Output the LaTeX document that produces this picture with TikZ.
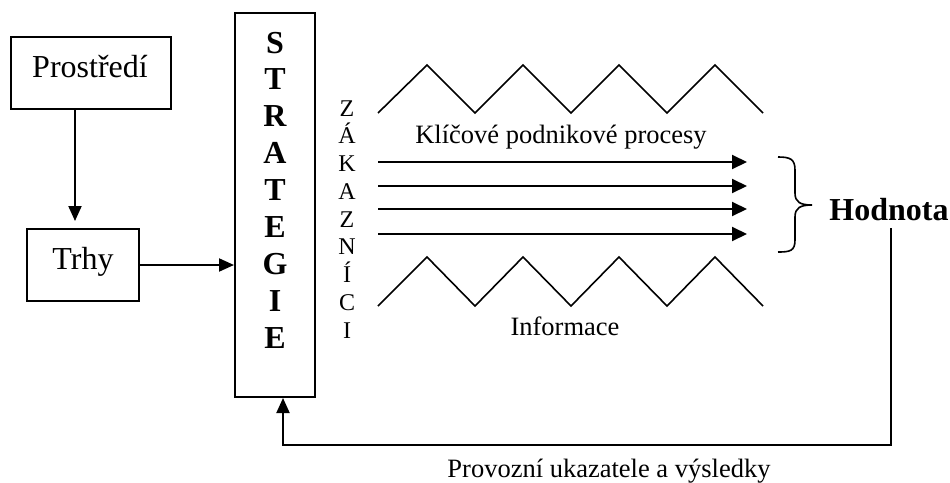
\documentclass[tikz,border=0pt]{standalone}
\usepackage{fontspec}
\setmainfont{Liberation Serif}
\usetikzlibrary{arrows.meta}
\begin{document}
\begin{tikzpicture}[x=1pt,y=-1pt,
  box/.style={draw, line width=2pt, inner sep=0pt},
  conn/.style={line width=2pt, -{Triangle[length=15pt,width=13pt]}},
  flow/.style={line width=2pt, -{Triangle[length=15pt,width=14pt]}},
  wave/.style={line width=1.6pt, line join=miter},
  boxtext/.style={font=\fontsize{32}{36}\selectfont, anchor=base, inner sep=0pt},
  boldtext/.style={font=\fontsize{32}{36}\selectfont\bfseries, anchor=base, inner sep=0pt},
  stack/.style={font=\fontsize{24}{28}\selectfont, anchor=base, inner sep=0pt},
  plain/.style={font=\fontsize{26.5}{30}\selectfont, anchor=base, inner sep=0pt}
]
\useasboundingbox (0,0) rectangle (950,482);

% left boxes
\node[box, minimum width=160pt, minimum height=72pt] (prost) at (91,73) {};
\node[boxtext] (prostlbl) at (90,77) {Prostředí};
\node[box, minimum width=112pt, minimum height=72pt] (trhy) at (83,265) {};
\node[boxtext] (trhylbl) at (83,269) {Trhy};

% strategy column
\node[box, minimum width=80pt, minimum height=384pt] (strat) at (275,205) {};
\foreach \ch [count=\i from 0] in {S,T,R,A,T,E,G,I,E}
  \node[boldtext] (s\i) at (275,53+36.9*\i) {\ch};

% customers, written vertically
\foreach \ch [count=\i from 0] in {Z,Á,K,A,Z,N,Í,C,I}
  \node[stack] (z\i) at (347,116+27.75*\i) {\ch};

% connectors on the left
\draw[conn, shorten >=7pt] (prost.south -| 75,0) -- (trhy.north -| 75,0);
\draw[conn] (trhy.east) -- (trhy.east -| strat.west);

% process zigzags
\draw[wave] (378,113) -- (427,65) -- (475,113) -- (523,65) -- (571,113)
  -- (619,65) -- (667,113) -- (715,65) -- (763,113);
\draw[wave] (378,306) -- (427,257) -- (475,306) -- (523,257) -- (571,306)
  -- (619,257) -- (667,306) -- (715,257) -- (763,306);

\node[plain] (proc) at (561,143) {Klíčové podnikové procesy};
\node[plain] (info) at (565,335) {Informace};

% process flows
\foreach \y [count=\i] in {162,186,209,234} {
  \coordinate (fa\i) at (378,\y);
  \coordinate (fb\i) at (747,\y);
  \draw[flow] (fa\i) -- (fb\i);
}

% brace and value
\draw[line width=1.6pt] (778,157) .. controls (790,157) and (795,159) .. (795,170)
  -- (795,193) .. controls (795,202) and (800,205) .. (812,205)
  .. controls (800,205) and (795,208) .. (795,217)
  -- (795,240) .. controls (795,251) and (790,252) .. (778,252);
\node[boldtext] (value) at (889,220) {Hodnota};

% feedback loop
\coordinate (fbtop) at (891,228);
\coordinate (fbcorner) at (891,445);
\draw[conn] (fbtop) -- (fbcorner) -- (fbcorner -| 283,0) -- (283,0 |- strat.south);
\node[plain] (fblbl) at (609,477) {Provozní ukazatele a výsledky};
\end{tikzpicture}
\end{document}
